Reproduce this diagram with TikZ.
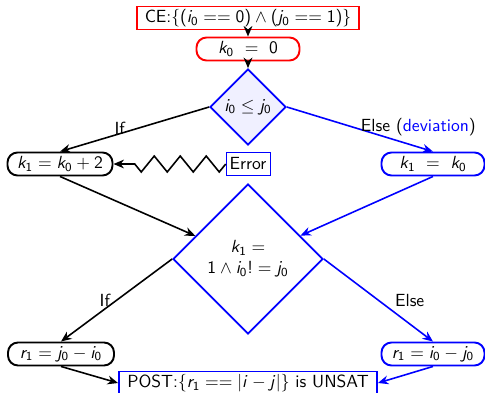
\documentclass[tikz,border=0pt]{standalone}
\usepackage{amsmath,amssymb}
\renewcommand{\familydefault}{\sfdefault}
% sans math letters and digits
\SetSymbolFont{operators}{normal}{OT1}{cmss}{m}{n}
\DeclareSymbolFont{sfslant}{OT1}{cmss}{m}{sl}
\DeclareMathSymbol{i}{\mathalpha}{sfslant}{`i}
\DeclareMathSymbol{j}{\mathalpha}{sfslant}{`j}
\DeclareMathSymbol{k}{\mathalpha}{sfslant}{`k}
\DeclareMathSymbol{r}{\mathalpha}{sfslant}{`r}
\usetikzlibrary{arrows.meta,shapes.geometric,decorations.pathmorphing}

\begin{document}
\begin{tikzpicture}[x=0.02cm,y=-0.02cm,
  pill/.style={draw,line width=1.1pt,rounded corners=0.2cm,minimum width=2.06cm,minimum height=0.46cm,inner sep=2pt},
  frame/.style={line width=1.1pt,minimum height=0.46cm,inner sep=1pt},
  cond/.style={draw=blue,line width=1pt,diamond,aspect=1,inner sep=0pt,align=center},
  arr/.style={-{Stealth[length=6pt,width=5pt]},line width=0.9pt}]
\useasboundingbox (0,0) rectangle (485,393);
% boxes, top to bottom
\node[frame,draw=red,minimum width=4.44cm] (ce) at (248,18) {CE:$\{(i_0 == 0) \wedge (j_0 == 1)\}$};
\node[pill,draw=red] (k0) at (248,49) {$k_0\ =\ 0$};
\node[cond,fill=blue!6,minimum size=1.52cm] (d1) at (248,107) {$i_0 \le j_0$};
\node[pill,minimum width=2.1cm] (ka) at (60,164) {$k_1 = k_0 + 2$};
\node[draw=blue,minimum height=0.46cm,inner sep=2pt] (err) at (248,164) {Error};
\node[pill,draw=blue] (kb) at (433,164) {$k_1\ =\ k_0$};
\node[cond,minimum size=3cm] (d2) at (248,259) {$k_1 =$\\$1 \wedge i_0! = j_0$};
\node[pill,minimum width=2.12cm] (ra) at (61,354) {$r_1 = j_0 - i_0$};
\node[pill,draw=blue] (rb) at (433,354) {$r_1 = i_0 - j_0$};
\node[frame,draw=blue,minimum width=5.16cm] (post) at (248,383) {POST:$\{r_1 == |i - j|\}$ is UNSAT};
% connectors
\draw[arr] (ce) -- (k0);
\draw[arr] (k0) -- (d1);
\draw[arr] (d1.west) -- (ka.north) node[pos=0.6,above=-0.15cm] {If};
\draw[arr,blue] (d1.east) -- (kb.north)
  node[pos=0.9,above=0.1cm,text=black] {Else (\textcolor{blue}{deviation})};
\draw[arr,decorate,decoration={zigzag,segment length=0.52cm,amplitude=0.16cm,post length=0.2cm}] (err.west) -- (ka.east);
\draw[arr] (ka.south) -- (d2);
\draw[arr,blue] (kb.south) -- (d2);
\draw[arr] (d2.west) -- (ra.north) node[pos=0.5,left] {If};
\draw[arr,blue] (d2.east) -- (rb.north) node[pos=0.5,right=0.2cm,text=black] {Else};
\draw[arr] (ra.south) -- (post.west);
\draw[arr,blue] (rb.south) -- (post.east);
\end{tikzpicture}
\end{document}
